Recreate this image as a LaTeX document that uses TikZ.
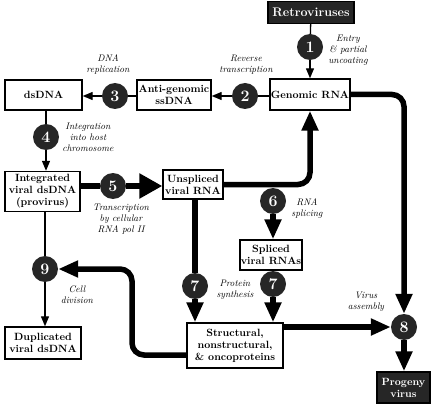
\documentclass[tikz,border=0pt]{standalone}
\usetikzlibrary{arrows.meta,positioning}
\tikzset{
  box/.style={draw=black, line width=1.4pt, fill=white, align=center, inner sep=1pt,
              font=\bfseries\fontsize{10.5}{12}\selectfont},
  darkbox/.style={box, fill=black!85, text=white},
  num/.style={circle, fill=black!85, text=white, minimum size=26pt, inner sep=0pt,
              font=\bfseries\fontsize{16}{16}\selectfont},
  note/.style={align=center, font=\itshape\fontsize{9.5}{11}\selectfont},
  ln/.style={line width=1.3pt},
  arr/.style={ln, -{Triangle[length=10pt,width=8pt]}},
  fat/.style={line width=5.5pt, rounded corners=12pt},
  fatarr/.style={fat, -{Triangle[length=20pt,width=16pt]}},
}

\begin{document}
\begin{tikzpicture}[x=1pt, y=-1pt]
\useasboundingbox (0,0) rectangle (433,406);

% Boxes
\node[darkbox, minimum width=86pt, minimum height=22pt, font=\bfseries\fontsize{12.5}{13}\selectfont] (retro) at (311,12.5) {Retroviruses};
\node[box, minimum width=79pt, minimum height=31pt] (genomic) at (310,94.5) {Genomic RNA};
\node[box, minimum width=74pt, minimum height=30pt] (anti) at (174,95) {Anti-genomic\\ssDNA};
\node[box, minimum width=77pt, minimum height=30pt] (dsdna) at (43.5,95) {dsDNA};
\node[box, minimum width=75pt, minimum height=40pt] (integ) at (42.5,191.5) {Integrated\\viral dsDNA\\(provirus)};
\node[box, minimum width=60pt, minimum height=29pt] (unspl) at (193,184.5) {Unspliced\\viral RNA};
\node[box, minimum width=62pt, minimum height=30pt] (spliced) at (271,255) {Spliced\\viral RNAs};
\node[box, minimum width=96pt, minimum height=45pt] (struct) at (235,345.5) {Structural,\\nonstructural,\\\& oncoproteins};
\node[box, minimum width=76pt, minimum height=32pt] (dup) at (43,343) {Duplicated\\viral dsDNA};
\node[darkbox, minimum width=53pt, minimum height=31pt] (progeny) at (403.5,387.5) {Progeny\\virus};

% Steps
\node[num] (n1) at (310,47) {1};
\node[num] (n2) at (245,96) {2};
\node[num] (n3) at (115,96) {3};
\node[num] (n4) at (46,137) {4};
\node[num] (n5) at (113,186) {5};
\node[num] (n6) at (273,201) {6};
\node[num] (n7a) at (195,286) {7};
\node[num] (n7b) at (273,284) {7};
\node[num] (n8) at (404,327) {8};
\node[num] (n9) at (45,269) {9};

% Step labels
\node[note] (l1) at (348,50) {Entry\\\& partial\\uncoating};
\node[note] (l2) at (246,65) {Reverse\\transcription};
\node[note] (l3) at (108,65) {DNA\\replication};
\node[note] (l4) at (88,137) {Integration\\into host\\chromosome};
\node[note] (l5) at (121,219) {Transcription\\by cellular\\RNA pol II};
\node[note] (l6) at (307,209) {RNA\\splicing};
\node[note] (l7) at (235,290) {Protein\\synthesis};
\node[note] (l8) at (366,302) {Virus\\assembly};
\node[note] (l9) at (77,295) {Cell\\division};

% Thin steps
\draw[ln] (retro) -- (n1);
\draw[arr] (n1) -- (genomic);
\draw[ln] (genomic.west |- n2) -- (n2);
\draw[arr] (n2) -- (anti.east |- n2);
\draw[ln] (anti.west |- n3) -- (n3);
\draw[arr] (n3) -- (dsdna.east |- n3);
\draw[ln] (n4 |- dsdna.south) -- (n4);
\draw[arr] (n4) -- (n4 |- integ.north);
\draw[ln] (n9 |- integ.south) -- (n9);
\draw[arr] (n9) -- (n9 |- dup.north);

% Thick flows
\coordinate (divbend) at (132,269);
\draw[fat] (integ.east |- n5) -- (n5);
\draw[fat, -{Triangle[length=23pt,width=24pt]}] (n5) -- (unspl.west |- n5);
\draw[fatarr] (unspl.east) -| (genomic.south);
\draw[fatarr] (n6) -- (n6 |- spliced.north);
\draw[fat] (n7a |- unspl.south) -- (n7a);
\draw[fatarr] (n7a) -- (n7a |- struct.north);
\draw[fatarr] (n7b) -- (n7b |- struct.north);
\draw[fatarr] (genomic.east) -| (n8.north);
\draw[fatarr] (struct.east |- n8) -- (n8);
\draw[fatarr] (n8) -- (n8 |- progeny.north);
\draw[fatarr] ([yshift=-9.5pt]struct.west) -| (divbend) -- (n9);

\end{tikzpicture}
\end{document}
